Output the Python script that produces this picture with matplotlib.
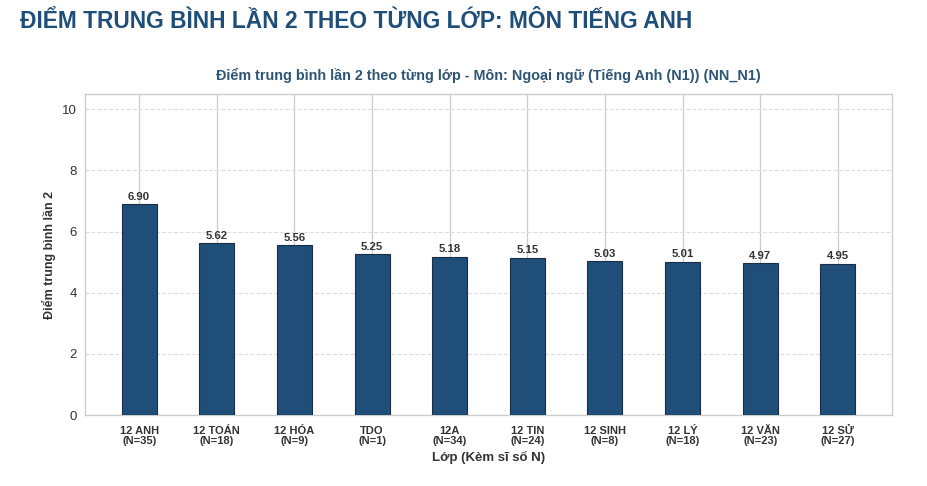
import matplotlib
matplotlib.use("Agg")
import matplotlib.pyplot as plt

plt.rcParams['font.family'] = ['Liberation Sans', 'DejaVu Sans']

classes = ["12 ANH", "12 TOÁN", "12 HÓA", "TDO", "12A", "12 TIN", "12 SINH", "12 LÝ", "12 VĂN", "12 SỬ"]
counts = [35, 18, 9, 1, 34, 24, 8, 18, 23, 27]
means = [6.90, 5.62, 5.56, 5.25, 5.18, 5.15, 5.03, 5.01, 4.97, 4.95]
yticks = [0, 2, 4, 6, 8, 10]

labels = [f"{c}\n(N={n})" for c, n in zip(classes, counts)]

fig = plt.figure(figsize=(9.28, 4.86), dpi=100)
fig.text(20/928, 1 - 21/486, "ĐIỂM TRUNG BÌNH LẦN 2 THEO TỪNG LỚP: MÔN TIẾNG ANH",
         fontsize=16.4, fontweight='bold', color='#1f4e79', ha='left', va='center')

ax = fig.add_axes([85/928, 1 - 415/486, (892-85)/928, (415-94)/486])
x = list(range(len(classes)))
bars = ax.bar(x, means, width=0.45, color='#1f4e79', edgecolor='#1a2f45', linewidth=0.8, zorder=3)
for xi, v in zip(x, means):
    ax.text(xi, v + 0.08, f"{v:.2f}", ha='center', va='bottom', fontsize=8.2, fontweight='bold', color='#333333', zorder=4)

ax.set_ylim(0, 10.5)
ax.set_yticks(yticks)
ax.set_xticks(x)
ax.set_xticklabels(labels, fontsize=8, fontweight='bold', color='#333333', linespacing=0.95)
ax.tick_params(axis='x', length=0, pad=8)
ax.tick_params(axis='y', length=0, pad=6, labelsize=9.5, labelcolor='#333333')
ax.grid(axis='y', linestyle='--', color='#dddddd', linewidth=0.8, zorder=0)
ax.grid(axis='x', linestyle='-', color='#cccccc', linewidth=0.9, zorder=0)
for s in ax.spines.values():
    s.set_color('#cccccc')
    s.set_linewidth(1)
ax.set_ylabel("Điểm trung bình lần 2", fontsize=9, fontweight='bold', color='#333333', labelpad=4)
ax.set_xlabel("Lớp (Kèm sĩ số N)", fontsize=9.5, fontweight='bold', color='#333333', labelpad=4)
ax.set_title("Điểm trung bình lần 2 theo từng lớp - Môn: Ngoại ngữ (Tiếng Anh (N1)) (NN_N1)",
             fontsize=10.4, fontweight='bold', color='#2e5575', pad=10)

fig.savefig("out.png", dpi=100, facecolor='white')
